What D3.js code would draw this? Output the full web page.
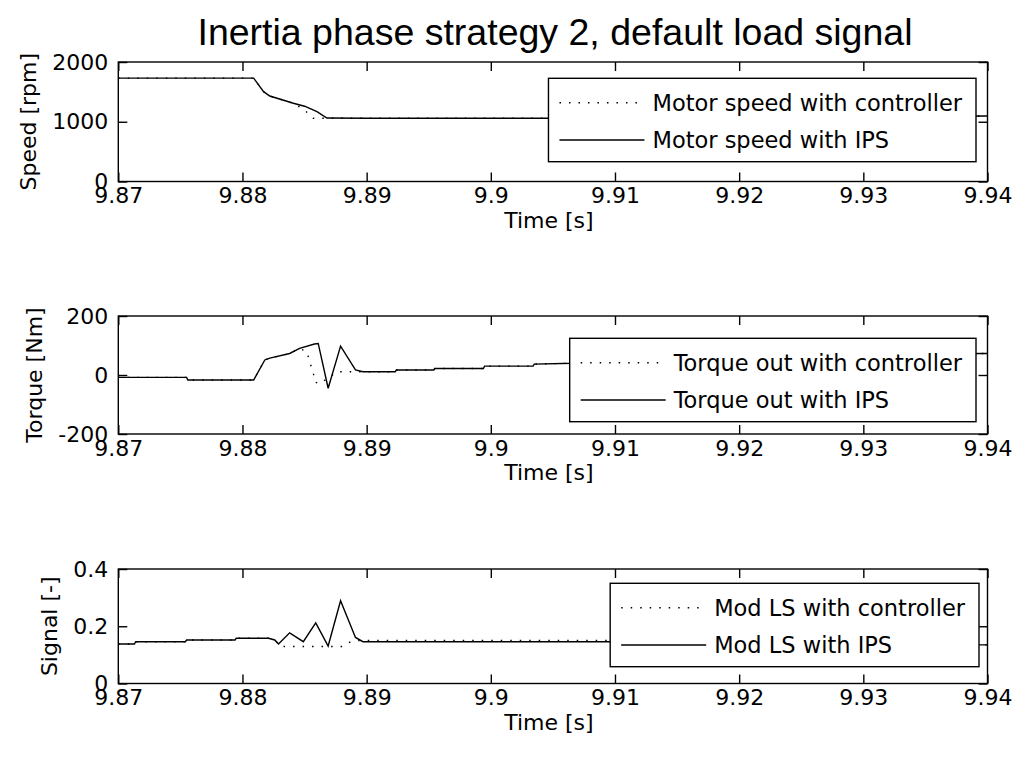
<!DOCTYPE html>
<html>
<head>
<meta charset="utf-8">
<script src="https://cdn.jsdelivr.net/npm/d3@7"></script>
<style>
  html, body { margin: 0; padding: 0; background: #fff; }
  svg { display: block; }
</style>
</head>
<body>
<div id="chart"></div>
<script>
// ---------------- DATA ----------------
const titleText = "Inertia phase strategy 2, default load signal";
const xTickValues = [9.87, 9.88, 9.89, 9.90, 9.91, 9.92, 9.93, 9.94];
const xTickLabels = ["9.87", "9.88", "9.89", "9.9", "9.91", "9.92", "9.93", "9.94"];
const xLabel = "Time [s]";

// Panel 1: motor speed [rpm]
const speedTicks = [0, 1000, 2000];
const speedTickLabels = ["0", "1000", "2000"];
const speedIpsTime = [9.87, 9.8809, 9.8817, 9.8822, 9.8841, 9.8850, 9.8860, 9.8868, 9.8900, 9.9066, 9.9200, 9.9300, 9.9400];
const speedIps     = [1730, 1730, 1503, 1431, 1309, 1260, 1168, 1062, 1058, 1058, 1075, 1088, 1095];
const speedCtrlTime = [9.87, 9.8809, 9.8817, 9.8822, 9.8841, 9.8850, 9.8857, 9.8868, 9.8900, 9.9066, 9.9200, 9.9300, 9.9400];
const speedCtrl     = [1730, 1730, 1503, 1431, 1309, 1197, 1058, 1060, 1058, 1058, 1075, 1088, 1095];

// Panel 2: torque out [Nm]
const torqueTicks = [-200, 0, 200];
const torqueTickLabels = ["-200", "0", "200"];
const torqueIpsTime = [9.87, 9.8755, 9.8756, 9.8809, 9.8818, 9.8822, 9.8838, 9.8846, 9.8858, 9.8861, 9.8869, 9.8879, 9.8891, 9.8897,
  9.8923, 9.8924, 9.8954, 9.8955, 9.8994, 9.8995, 9.9034, 9.9035, 9.9066, 9.9114, 9.9154, 9.9194, 9.9234, 9.9274, 9.9314, 9.9354, 9.9400];
const torqueIps = [-8, -8, -17, -17, 51, 57, 73, 90, 105, 107, -45, 98, 17, 11,
  11, 17, 17, 22, 22, 30, 30, 37, 40, 51, 56, 61, 65, 68, 70, 72, 73];
const torqueCtrlTime = [9.87, 9.8755, 9.8756, 9.8809, 9.8818, 9.8822, 9.8838, 9.8846, 9.8852, 9.8854, 9.8857, 9.8858, 9.8862, 9.8869,
  9.8876, 9.8884, 9.8897, 9.8923, 9.8924, 9.8954, 9.8955, 9.8994, 9.8995, 9.9034, 9.9035, 9.9066, 9.9114, 9.9154, 9.9194, 9.9234, 9.9274, 9.9314, 9.9354, 9.9400];
const torqueCtrl = [-8, -8, -17, -17, 51, 57, 73, 90, 79, 45, 11, -23, -30, -10,
  11, 11, 11, 11, 17, 17, 22, 22, 30, 30, 37, 40, 51, 56, 61, 65, 68, 70, 72, 73];

// Panel 3: mod LS signal [-]
const signalTicks = [0, 0.2, 0.4];
const signalTickLabels = ["0", "0.2", "0.4"];
const signalIpsTime = [9.87, 9.8713, 9.8714, 9.8754, 9.8755, 9.8794, 9.8795, 9.8821, 9.8826, 9.8829, 9.8838, 9.8849, 9.8859, 9.8869,
  9.8879, 9.8891, 9.8897, 9.9200, 9.9300, 9.9400];
const signalIps = [0.138, 0.138, 0.146, 0.146, 0.152, 0.152, 0.158, 0.158, 0.152, 0.138, 0.177, 0.146, 0.212, 0.131,
  0.289, 0.161, 0.146, 0.146, 0.137, 0.135];
const signalCtrlTime = [9.87, 9.8713, 9.8714, 9.8754, 9.8755, 9.8794, 9.8795, 9.8821, 9.8826, 9.8829, 9.8833, 9.8880, 9.8887, 9.8893,
  9.9200, 9.9300, 9.9400];
const signalCtrl = [0.138, 0.138, 0.146, 0.146, 0.152, 0.152, 0.158, 0.158, 0.152, 0.138, 0.129, 0.129, 0.146, 0.150,
  0.150, 0.137, 0.135];

// ---------------- LAYOUT ----------------
const W = 1018, H = 758;
const axLeft = 118.3, axRight = 987.5;
const panels = [
  { top: 62, bottom: 181.5, domain: [0, 2000], ticks: speedTicks, tickLabels: speedTickLabels, ylabel: "Speed [rpm]",
    series: [{ t: speedCtrlTime, v: speedCtrl, dotted: true }, { t: speedIpsTime, v: speedIps, dotted: false }],
    legend: ["Motor speed with controller", "Motor speed with IPS"], legRight: 976, legTop: 78.3 },
  { top: 316, bottom: 434, domain: [-200, 200], ticks: torqueTicks, tickLabels: torqueTickLabels, ylabel: "Torque [Nm]",
    series: [{ t: torqueCtrlTime, v: torqueCtrl, dotted: true }, { t: torqueIpsTime, v: torqueIps, dotted: false }],
    legend: ["Torque out with controller", "Torque out with IPS"], legRight: 976, legTop: 338.3 },
  { top: 569, bottom: 683.5, domain: [0, 0.4], ticks: signalTicks, tickLabels: signalTickLabels, ylabel: "Signal [-]",
    series: [{ t: signalCtrlTime, v: signalCtrl, dotted: true }, { t: signalIpsTime, v: signalIps, dotted: false }],
    legend: ["Mod LS with controller", "Mod LS with IPS"], legRight: 979, legTop: 583.3 }
];

const FONT = "'DejaVu Sans', Verdana, sans-serif";
const FS = 22;
const DOT = "1.5,8";
const LW = 1.4;

const svg = d3.select("#chart").append("svg")
  .attr("width", W).attr("height", H)
  .style("background", "#fff");

svg.append("text")
  .attr("x", 555).attr("y", 45)
  .attr("text-anchor", "middle")
  .style("font-family", "'Liberation Sans', Arial, sans-serif")
  .style("font-size", "37.5px")
  .attr("fill", "#000")
  .text(titleText);

const x = d3.scaleLinear().domain([9.87, 9.94]).range([axLeft, axRight]);

panels.forEach(p => {
  const y = d3.scaleLinear().domain(p.domain).range([p.bottom, p.top]);
  const g = svg.append("g");

  const clipId = "clip" + p.top;
  svg.append("clipPath").attr("id", clipId).append("rect")
    .attr("x", axLeft).attr("y", p.top).attr("width", axRight - axLeft).attr("height", p.bottom - p.top);

  const line = d3.line().x(d => x(d[0])).y(d => y(d[1]));
  p.series.forEach(s => {
    const pts = s.t.map((t, i) => [t, s.v[i]]);
    g.append("path")
      .attr("d", line(pts))
      .attr("clip-path", `url(#${clipId})`)
      .attr("fill", "none")
      .attr("stroke", "#000")
      .attr("stroke-width", LW)
      .attr("stroke-dasharray", s.dotted ? DOT : null);
  });

  const xb = d3.axisBottom(x).tickValues(xTickValues).tickSize(-9).tickPadding(6)
    .tickFormat((d, i) => xTickLabels[i]);
  const xt = d3.axisTop(x).tickValues(xTickValues).tickSize(-9).tickFormat("");
  const yl = d3.axisLeft(y).tickValues(p.ticks).tickSize(-9).tickPadding(10)
    .tickFormat((d, i) => p.tickLabels[i]);
  const yr = d3.axisRight(y).tickValues(p.ticks).tickSize(-9).tickFormat("");

  const axB = g.append("g").attr("transform", `translate(0,${p.bottom})`).call(xb);
  const axT = g.append("g").attr("transform", `translate(0,${p.top})`).call(xt);
  const axL = g.append("g").attr("transform", `translate(${axLeft},0)`).call(yl);
  const axR = g.append("g").attr("transform", `translate(${axRight},0)`).call(yr);
  [axB, axT, axL, axR].forEach(a => {
    a.select(".domain").remove();
    a.selectAll("line").attr("stroke", "#000").attr("stroke-width", LW);
    a.selectAll("text").style("font-family", FONT).style("font-size", FS + "px").attr("fill", "#000");
  });

  const legG = svg.append("g");
  const tmp = legG.append("text").style("font-family", FONT).style("font-size", "22.5px").text(p.legend[0]);
  const tw = Math.max(tmp.node().getComputedTextLength(),
    (tmp.text(p.legend[1]), tmp.node().getComputedTextLength()));
  tmp.remove();
  const padR = 14, gap = 8, sampleW = 85, padL = 11;
  const legW = padL + sampleW + gap + tw + padR;
  const legH = 83.4;
  const lx = p.legRight - legW;
  legG.append("rect")
    .attr("x", lx).attr("y", p.legTop).attr("width", legW).attr("height", legH)
    .attr("fill", "#fff").attr("stroke", "#000").attr("stroke-width", LW);
  const rows = [p.legTop + 24.4, p.legTop + 61.7];
  p.legend.forEach((txt, i) => {
    legG.append("line")
      .attr("x1", lx + padL).attr("x2", lx + padL + sampleW)
      .attr("y1", rows[i]).attr("y2", rows[i])
      .attr("stroke", "#000").attr("stroke-width", LW)
      .attr("stroke-dasharray", p.series[i].dotted ? DOT : null);
    legG.append("text")
      .attr("x", lx + padL + sampleW + gap).attr("y", rows[i]).attr("dy", "0.36em")
      .style("font-family", FONT).style("font-size", "22.5px").attr("fill", "#000")
      .text(txt);
  });

  svg.append("rect")
    .attr("x", axLeft).attr("y", p.top).attr("width", axRight - axLeft).attr("height", p.bottom - p.top)
    .attr("fill", "none").attr("stroke", "#000").attr("stroke-width", LW);

  let maxW = 0;
  axL.selectAll("text").each(function () { maxW = Math.max(maxW, this.getComputedTextLength()); });
  const ylx = axLeft - 10 - maxW - 16;
  svg.append("text")
    .attr("transform", `translate(${ylx},${(p.top + p.bottom) / 2}) rotate(-90)`)
    .attr("text-anchor", "middle")
    .style("font-family", FONT).style("font-size", FS + "px").attr("fill", "#000")
    .text(p.ylabel);

  svg.append("text")
    .attr("x", (axLeft + axRight) / 2 - 4).attr("y", p.bottom + 46)
    .attr("text-anchor", "middle")
    .style("font-family", FONT).style("font-size", FS + "px").attr("fill", "#000")
    .text(xLabel);
});
</script>
</body>
</html>
